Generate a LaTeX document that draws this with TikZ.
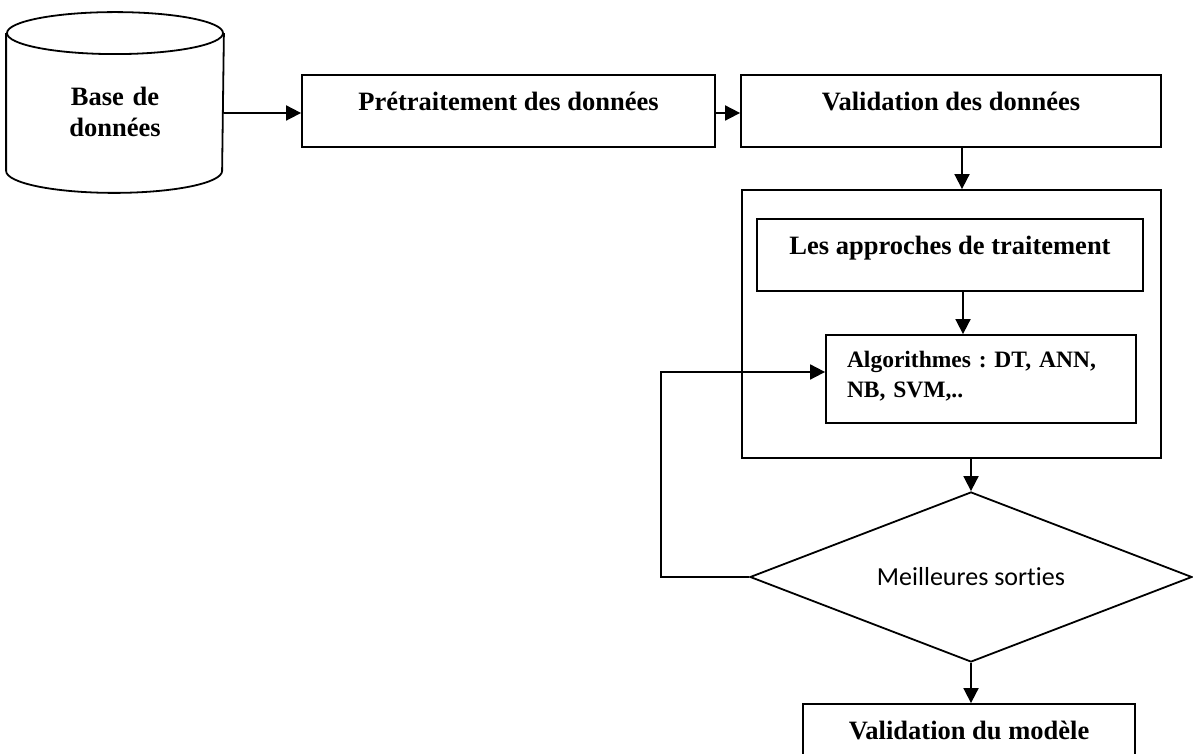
\documentclass[tikz,border=0pt]{standalone}
\usepackage{fontspec}
\setmainfont{Liberation Serif}
\newfontfamily\calibrifont[Ligatures=NoCommon]{Carlito}
\usetikzlibrary{arrows.meta,shapes.geometric}
\frenchspacing

\begin{document}
\begin{tikzpicture}[x=1pt,y=1pt,line width=1.8pt,
  arr/.style={-{Triangle[length=15pt,width=15pt]}},
  box/.style={draw,rectangle,inner xsep=0pt,inner ysep=0pt,
    font=\fontsize{26.5}{31}\selectfont\bfseries},
  smallbox/.style={draw,rectangle,inner ysep=0pt,
    font=\fontsize{23.5}{30}\selectfont\bfseries\frenchspacing},
  decision/.style={draw,diamond,aspect=2.6,inner sep=0pt,
    font=\calibrifont\fontsize{26}{30}\selectfont}]
\useasboundingbox (0,0) rectangle (1193,754);

% helper positions for offset vertical connectors
\coordinate (c1) at (962,0);
\coordinate (c2) at (963,0);
\coordinate (fb) at (661,0);

% database cylinder
\node[inner sep=0pt,text width=216pt,align=center,
      text height=72pt,text depth=64pt,
      font=\fontsize{26.5}{31}\selectfont\bfseries] (db) at (115,652) {Base de\\données};
\draw (db.north west) -- (db.south west)
      arc[start angle=180,end angle=360,x radius=108,y radius=22] -- (db.north east);
\draw (db.north) ellipse [x radius=108,y radius=21];

% processing chain
\node[box,minimum width=413pt,text height=36pt,text depth=36pt] (pre) at (508.5,643) {Prétraitement des données};
\node[box,minimum width=420pt,text height=36pt,text depth=36pt] (val) at (951,643) {Validation des données};

\node[draw,rectangle,inner sep=0pt,minimum width=419pt,minimum height=268pt] (big) at (951.5,430) {};
\node[box,minimum width=386pt,text height=36pt,text depth=36pt] (app) at (950,499) {Les approches de traitement};
\node[smallbox,text width=268pt,inner xsep=21pt,align=left,
      text height=33pt,text depth=55pt] (alg) at (981,375) {Algorithmes : DT, ANN,\\NB, SVM,..};

\node[decision,minimum width=442pt,minimum height=170pt] (dec) at (971,177) {Meilleures sorties};

\node[box,minimum width=332pt,text height=36pt,text depth=17pt] (valm) at (969,23.5) {Validation du modèle};

% connectors
\draw[arr] ([yshift=-11pt]db.east) -- ([yshift=-2pt]pre.west);
\draw[arr] ([yshift=-2pt]pre.east) -- ([yshift=-2pt]val.west);
\draw[arr] (val.south -| c1) -- (big.north -| c1);
\draw[arr] (app.south -| c2) -- (alg.north -| c2);
\draw[arr] (big.south -| dec.north) -- (dec.north);
\draw[arr] (dec.south) -- (valm.north -| dec.south);
\draw[arr] (dec.west) -- (dec.west -| fb) |- ([yshift=7pt]alg.west);
\end{tikzpicture}
\end{document}
